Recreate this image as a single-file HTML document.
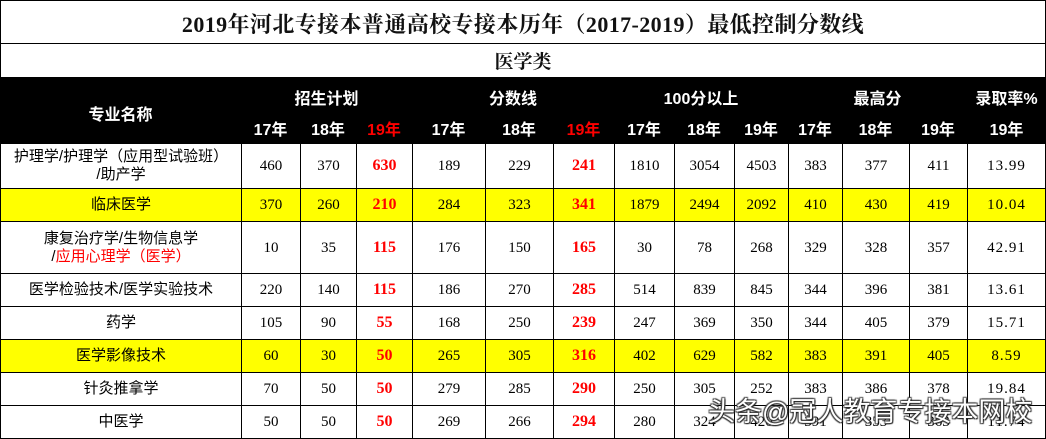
<!DOCTYPE html>
<html>
<head>
<meta charset="utf-8">
<style>
*{margin:0;padding:0;box-sizing:border-box;}
html,body{width:1046px;height:439px;overflow:hidden;background:#fff;}
#w{position:relative;width:1046px;height:439px;background:#fff;overflow:hidden;}
.abs{position:absolute;}
.title{left:0;top:0;width:1046px;height:44px;border-top:1px solid #000;border-bottom:1px solid #000;
  display:flex;align-items:center;justify-content:center;
  font-family:"Liberation Serif","Noto Serif CJK SC",serif;font-weight:700;font-size:22px;letter-spacing:0.4px;color:#111;padding-top:2px;}
.sub{left:0;top:44px;width:1046px;height:33px;display:flex;align-items:center;justify-content:center;
  font-family:"Liberation Serif","Noto Serif CJK SC",serif;font-weight:700;font-size:19px;color:#111;}
.hdr{left:0;top:77px;width:1046px;height:67px;background:#000;}
.h{position:absolute;color:#fff;font-family:"Liberation Sans","Noto Sans CJK SC",sans-serif;font-weight:700;font-size:16px;
  display:flex;align-items:center;justify-content:center;white-space:nowrap;height:20px;}
.red{color:#ff0000;}
.grid{position:absolute;left:0;top:144px;width:1046px;border-left:1px solid #000;display:grid;
  grid-template-columns:241px 59px 56px 56px 73px 68px 61px 60px 60px 54px 54px 67px 58px 78px;
  grid-template-rows:45px 33px 52px 33px 33px 33px 33px 33px;}
.grid>div{border-right:1px solid #000;border-bottom:1px solid #000;display:flex;align-items:center;justify-content:center;
  text-align:center;font-family:"Liberation Serif","Noto Sans CJK SC",serif;font-size:15px;color:#000;line-height:18px;}
.grid>div.n{font-family:"Liberation Sans","Noto Sans CJK SC",sans-serif;font-size:15px;white-space:nowrap;}
.grid>div.n>span{display:block;}
.grid>div.r{color:#ff0000;font-weight:700;font-size:16px;}
.grid>div.y{background:#ffff00;}
.grid>div.p{letter-spacing:1px;}
.lb{left:0;top:0;width:1px;height:439px;background:#000;}
.rb{left:1045px;top:0;width:1px;height:439px;background:#000;}
.wm{left:708px;top:395px;font-family:"Liberation Sans","Noto Sans CJK SC",sans-serif;font-size:27px;color:#fff;white-space:nowrap;
  text-shadow:1px 1px 1px #222,-1px -1px 1px #444,1px -1px 1px #444,-1px 1px 1px #444;line-height:34px;}
</style>
</head>
<body>
<div id="w">
  <div class="abs title">2019年河北专接本普通高校专接本历年（2017-2019）最低控制分数线</div>
  <div class="abs sub">医学类</div>
  <div class="abs hdr"></div>
  <div class="h" style="left:0;width:241px;top:103px;">专业名称</div>
  <div class="h" style="left:241px;width:171px;top:87px;">招生计划</div>
  <div class="h" style="left:412px;width:202px;top:87px;">分数线</div>
  <div class="h" style="left:614px;width:174px;top:87px;">100分以上</div>
  <div class="h" style="left:788px;width:179px;top:87px;">最高分</div>
  <div class="h" style="left:967px;width:79px;top:87px;">录取率%</div>

  <div class="h" style="left:241px;width:59px;top:118px;">17年</div>
  <div class="h" style="left:300px;width:56px;top:118px;">18年</div>
  <div class="h red" style="left:356px;width:56px;top:118px;">19年</div>
  <div class="h" style="left:412px;width:73px;top:118px;">17年</div>
  <div class="h" style="left:485px;width:68px;top:118px;">18年</div>
  <div class="h red" style="left:553px;width:61px;top:118px;">19年</div>
  <div class="h" style="left:614px;width:60px;top:118px;">17年</div>
  <div class="h" style="left:674px;width:60px;top:118px;">18年</div>
  <div class="h" style="left:734px;width:54px;top:118px;">19年</div>
  <div class="h" style="left:788px;width:54px;top:118px;">17年</div>
  <div class="h" style="left:842px;width:67px;top:118px;">18年</div>
  <div class="h" style="left:909px;width:58px;top:118px;">19年</div>
  <div class="h" style="left:967px;width:79px;top:118px;">19年</div>

  <div class="grid">
    <!-- row 1 -->
    <div class="n"><span>护理学/护理学（应用型试验班）<br>/助产学</span></div>
    <div>460</div><div>370</div><div class="r">630</div>
    <div>189</div><div>229</div><div class="r">241</div>
    <div>1810</div><div>3054</div><div>4503</div>
    <div>383</div><div>377</div><div>411</div><div class="p">13.99</div>
    <!-- row 2 -->
    <div class="n y"><span>临床医学</span></div>
    <div class="y">370</div><div class="y">260</div><div class="r y">210</div>
    <div class="y">284</div><div class="y">323</div><div class="r y">341</div>
    <div class="y">1879</div><div class="y">2494</div><div class="y">2092</div>
    <div class="y">410</div><div class="y">430</div><div class="y">419</div><div class="p y">10.04</div>
    <!-- row 3 -->
    <div class="n"><span>康复治疗学/生物信息学<br>/<span style="color:#ff0000;display:inline">应用心理学（医学）</span></span></div>
    <div>10</div><div>35</div><div class="r">115</div>
    <div>176</div><div>150</div><div class="r">165</div>
    <div>30</div><div>78</div><div>268</div>
    <div>329</div><div>328</div><div>357</div><div class="p">42.91</div>
    <!-- row 4 -->
    <div class="n"><span>医学检验技术/医学实验技术</span></div>
    <div>220</div><div>140</div><div class="r">115</div>
    <div>186</div><div>270</div><div class="r">285</div>
    <div>514</div><div>839</div><div>845</div>
    <div>344</div><div>396</div><div>381</div><div class="p">13.61</div>
    <!-- row 5 -->
    <div class="n"><span>药学</span></div>
    <div>105</div><div>90</div><div class="r">55</div>
    <div>168</div><div>250</div><div class="r">239</div>
    <div>247</div><div>369</div><div>350</div>
    <div>344</div><div>405</div><div>379</div><div class="p">15.71</div>
    <!-- row 6 -->
    <div class="n y"><span>医学影像技术</span></div>
    <div class="y">60</div><div class="y">30</div><div class="r y">50</div>
    <div class="y">265</div><div class="y">305</div><div class="r y">316</div>
    <div class="y">402</div><div class="y">629</div><div class="y">582</div>
    <div class="y">383</div><div class="y">391</div><div class="y">405</div><div class="p y">8.59</div>
    <!-- row 7 -->
    <div class="n"><span>针灸推拿学</span></div>
    <div>70</div><div>50</div><div class="r">50</div>
    <div>279</div><div>285</div><div class="r">290</div>
    <div>250</div><div>305</div><div>252</div>
    <div>383</div><div>386</div><div>378</div><div class="p">19.84</div>
    <!-- row 8 -->
    <div class="n"><span>中医学</span></div>
    <div>50</div><div>50</div><div class="r">50</div>
    <div>269</div><div>266</div><div class="r">294</div>
    <div>280</div><div>324</div><div>420</div>
    <div>391</div><div>353</div><div>363</div><div class="p">11.74</div>
  </div>

  <div class="abs lb"></div>
  <div class="abs rb"></div>
  <div class="abs wm">头条@冠人教育专接本网校</div>
</div>
</body>
</html>
